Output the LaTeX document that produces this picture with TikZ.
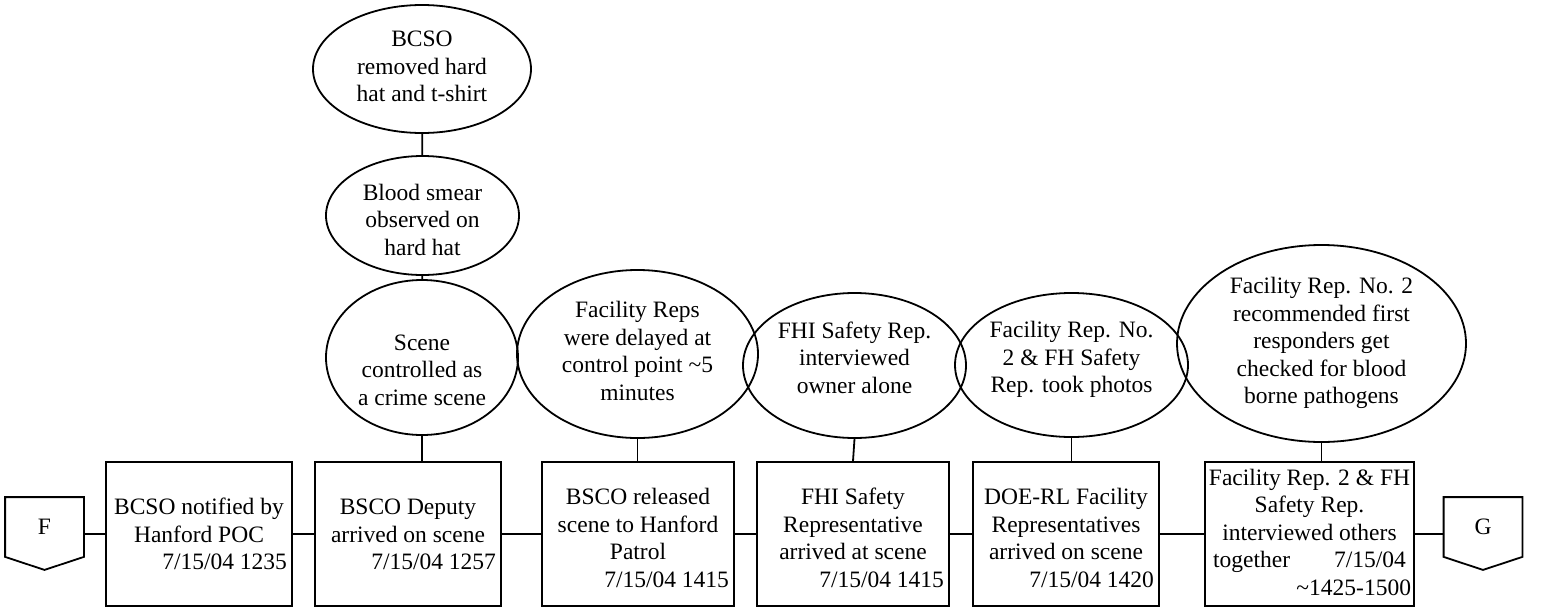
\documentclass[tikz,border=0pt]{standalone}
\usepackage{fontspec}
\setmainfont{Liberation Serif}
\usetikzlibrary{shapes.geometric}
% #1 = downward shift of the text block
\newcommand{\ztxt}[2][0pt]{\raisebox{\dimexpr-0.25em-#1\relax}[0pt][0pt]{\makebox[0pt]{\begin{tabular}{@{}c@{}}#2\end{tabular}}}}
\newcommand{\rdate}[2]{\makebox[#1][r]{#2}}
\begin{document}
\begin{tikzpicture}[x=1pt,y=-1pt,line width=1.8pt,
  every node/.style={font=\fontsize{23.5}{27.5}\selectfont},
  evt/.style={draw,rectangle,minimum height=144pt,inner sep=0pt},
  cond/.style={draw,ellipse,inner sep=0pt},
  conn/.style={rectangle,inner sep=0pt,minimum width=77pt,minimum height=58pt}]
\useasboundingbox (0,0) rectangle (1543,608);

% off-page connectors
\node[conn] (F) at (44.5,527) {F};
\draw (F.north west) -- (F.north east) -- (F.south east) -- ([yshift=-13pt]F.south) -- (F.south west) -- cycle;
\node[conn] (G) at (1483,527) {G};
\draw (G.north west) -- (G.north east) -- (G.south east) -- ([yshift=-13pt]G.south) -- (G.south west) -- cycle;

% event boxes
\node[evt,minimum width=186pt] (b1) at (199,534)
  {\ztxt[3pt]{BCSO notified by\\Hanford POC\\\rdate{176pt}{7/15/04 1235}}};
\node[evt,minimum width=186pt] (b2) at (408,534)
  {\ztxt[3pt]{BSCO Deputy\\arrived on scene\\\rdate{176pt}{7/15/04 1257}}};
\node[evt,minimum width=192pt] (b3) at (638,534)
  {\ztxt[7pt]{BSCO released\\scene to Hanford\\Patrol\\\rdate{182pt}{7/15/04 1415}}};
\node[evt,minimum width=192pt] (b4) at (853,534)
  {\ztxt[7pt]{FHI Safety\\Representative\\arrived at scene\\\rdate{182pt}{7/15/04 1415}}};
\node[evt,minimum width=186pt] (b5) at (1066,534)
  {\ztxt[7pt]{DOE-RL Facility\\Representatives\\arrived on scene\\\rdate{176pt}{7/15/04 1420}}};
\node[evt,minimum width=209pt] (b6) at (1309.5,534)
  {\ztxt[1pt]{Facility Rep. 2 \& FH\\Safety Rep.\\interviewed others\\together\hspace{44pt}7/15/04\\\rdate{203pt}{\textasciitilde1425-1500}}};

% condition ellipses
\node[cond,minimum width=218pt,minimum height=128pt] (e1) at (422,69)
  {\ztxt{BCSO\\removed hard\\hat and t-shirt}};
\node[cond,minimum width=193pt,minimum height=119pt] (e2) at (422.5,215.5)
  {\ztxt[7pt]{Blood smear\\observed on\\hard hat}};
\node[cond,minimum width=192pt,minimum height=155pt] (e3) at (422,357.5)
  {\ztxt[15pt]{Scene\\controlled as\\a crime scene}};
\node[cond,minimum width=241pt,minimum height=168pt] (e4) at (637.5,354)
  {\ztxt{Facility Reps\\were delayed at\\control point \textasciitilde5\\minutes}};
\node[cond,minimum width=223pt,minimum height=145pt] (e5) at (854.5,365.5)
  {\ztxt[-5pt]{FHI Safety Rep.\\interviewed\\owner alone}};
\node[cond,minimum width=233pt,minimum height=144pt] (e6) at (1071.5,365)
  {\ztxt[-5pt]{Facility Rep. No.\\2 \& FH Safety\\Rep. took photos}};
\node[cond,minimum width=289pt,minimum height=197pt] (e7) at (1321.5,343.5)
  {\ztxt{Facility Rep. No. 2\\recommended first\\responders get\\checked for blood\\borne pathogens}};

% connectors
\draw (b1.west) -- (b1.west -| F.east);
\draw (b1) -- (b2);
\draw (b2) -- (b3);
\draw (b3) -- (b4);
\draw (b4) -- (b5);
\draw (b5) -- (b6);
\draw (b6.east) -- (b6.east -| G.west);
\draw (e1) -- (e2);
\draw (e2) -- (e3);
\draw (e3.south) -- (e3.south |- b2.north);
\draw (e4.south) -- (e4.south |- b3.north);
\draw (e5.south) -- (b4.north);
\draw (e6.south) -- (e6.south |- b5.north);
\draw (e7.south) -- (e7.south |- b6.north);
\end{tikzpicture}
\end{document}
